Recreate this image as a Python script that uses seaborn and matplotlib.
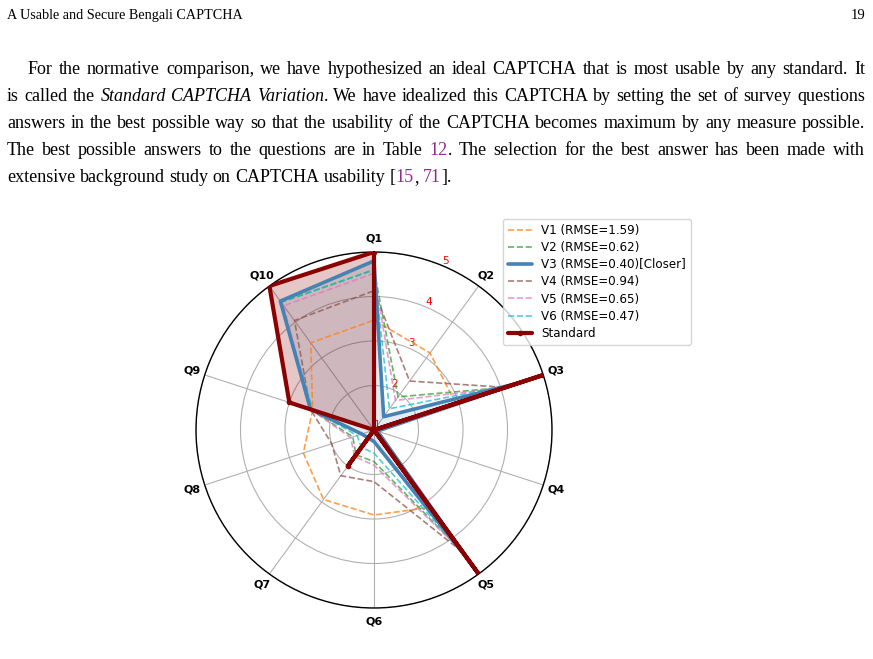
import numpy as np
import pandas as pd
import matplotlib
matplotlib.use("Agg")
import matplotlib.pyplot as plt
import seaborn as sns

# ---------------- data ----------------
categories = ["Q1", "Q2", "Q3", "Q4", "Q5", "Q6", "Q7", "Q8", "Q9", "Q10"]
v1 = [3.47, 3.14, 2.93, 1.10, 3.15, 2.91, 2.93, 2.67, 2.45, 3.42]
v2 = [4.60, 1.92, 4.10, 1.05, 4.40, 1.71, 1.69, 1.50, 2.50, 4.55]
v3 = [4.80, 1.37, 4.40, 1.08, 4.60, 1.26, 1.22, 1.29, 2.50, 4.58]
v4 = [4.13, 2.36, 4.10, 1.08, 4.40, 2.16, 2.27, 2.00, 2.50, 4.04]
v5 = [4.52, 1.82, 4.10, 1.05, 4.40, 1.79, 1.74, 1.55, 2.50, 4.45]
v6 = [4.60, 1.59, 4.40, 1.05, 4.50, 1.52, 1.48, 1.40, 2.45, 4.55]
standard = [5, 1, 5, 1, 5, 1, 2, 1, 3, 5]
series_labels = ["V1 (RMSE=1.59)", "V2 (RMSE=0.62)", "V3 (RMSE=0.40)[Closer]",
                 "V4 (RMSE=0.94)", "V5 (RMSE=0.65)", "V6 (RMSE=0.47)", "Standard"]
r_ticks = [1, 2, 3, 4, 5]

header_left = "A Usable and Secure Bengali CAPTCHA"
header_right = "19"
PURPLE = "#8b2c8b"
para_lines = [
    [[("For", {})], [("the", {})], [("normative", {})], [("comparison,", {})], [("we", {})], [("have", {})],
     [("hypothesized", {})], [("an", {})], [("ideal", {})], [("CAPTCHA", {})], [("that", {})], [("is", {})],
     [("most", {})], [("usable", {})], [("by", {})], [("any", {})], [("standard.", {})], [("It", {})]],
    [[("is", {})], [("called", {})], [("the", {})], [("Standard", {"style": "italic"})],
     [("CAPTCHA", {"style": "italic"})], [("Variation", {"style": "italic"}), (".", {})], [("We", {})],
     [("have", {})], [("idealized", {})], [("this", {})], [("CAPTCHA", {})], [("by", {})], [("setting", {})],
     [("the", {})], [("set", {})], [("of", {})], [("survey", {})], [("questions", {})]],
    [[(w, {})] for w in "answers in the best possible way so that the usability of the CAPTCHA becomes maximum by any measure possible.".split()],
    [[(w, {})] for w in "The best possible answers to the questions are in Table".split()]
    + [[("12", {"color": PURPLE}), (".", {})]]
    + [[(w, {})] for w in "The selection for the best answer has been made with".split()],
    [[(w, {})] for w in "extensive background study on CAPTCHA usability".split()]
    + [[("[", {}), ("15", {"color": PURPLE}), (",", {})], [("71", {"color": PURPLE}), ("].", {})]],
]

W, H = 873, 659
sns.set_style("white")
plt.rcParams["font.family"] = ["DejaVu Sans"]
plt.rcParams["text.color"] = "black"
plt.rcParams["xtick.color"] = "black"
fig = plt.figure(figsize=(W / 100, H / 100), dpi=100)

# ---------------- page text ----------------
SERIF = "Liberation Serif"
renderer = fig.canvas.get_renderer()


def text_width(s, size, style="normal"):
    t = fig.text(0, 0, s, family=SERIF, size=size, style=style)
    w = t.get_window_extent(renderer).width
    t.remove()
    return w


def advance(s, size, style="normal"):
    # approximate pen advance of a string
    return text_width(s + "l", size, style) - text_width("l", size, style)


def place_line(tokens, y_px, x0, x1, justify, size):
    words = []
    for w in tokens:
        parts = []
        off = 0.0
        for t, st in w:
            style = st.get("style", "normal")
            txt = fig.text(0, 0, t, family=SERIF, size=size, color=st.get("color", "black"),
                           style=style, va="baseline", ha="left")
            parts.append((txt, off))
            off += advance(t, size, style)
        words.append((parts, off))
    total = sum(w for _, w in words)
    if justify and len(words) > 1:
        gap = (x1 - x0 - total) / (len(words) - 1)
    else:
        gap = advance("a a", size) - advance("aa", size)
    x = x0
    for parts, ww in words:
        for txt, o in parts:
            txt.set_position(((x + o) / W, 1 - y_px / H))
        x += ww + gap


fig.text(7 / W, 1 - 19 / H, header_left, family=SERIF, size=10.2, color="black",
         va="baseline", ha="left")
fig.text(865 / W, 1 - 19 / H, header_right, family=SERIF, size=10.5, color="black",
         va="baseline", ha="right")

body_size = 13.0
baselines = [74, 101, 128, 155, 182]
for i, (toks, yb) in enumerate(zip(para_lines, baselines)):
    x0 = 28 if i == 0 else 7
    place_line(toks, yb, x0, 865, justify=(i < len(para_lines) - 1), size=body_size)

# ---------------- radar chart ----------------
cx, cy, R = 374, 430, 178
ax = fig.add_axes([(cx - R) / W, (H - cy - R) / H, 2 * R / W, 2 * R / H], projection="polar")
ax.set_theta_offset(np.pi / 2)
ax.set_theta_direction(-1)

n = len(categories)
angles = np.linspace(0, 2 * np.pi, n, endpoint=False)

all_series = [v1, v2, v3, v4, v5, v6, standard]
colors = ["#ff7f0e", "#2ca02c", "steelblue", "#8c564b", "#e377c2", "#17becf", "darkred"]


def closed_df(vals):
    th = list(angles) + [angles[0]]
    rv = list(vals) + [vals[0]]
    return pd.DataFrame({"theta": th, "value": rv})


for i, (vals, lab, col) in enumerate(zip(all_series, series_labels, colors)):
    df = closed_df(vals)
    if lab.startswith("V3"):
        sns.lineplot(data=df, x="theta", y="value", ax=ax, sort=False, estimator=None,
                     color=col, lw=2.6, label=lab, zorder=4)
        ax.fill(df["theta"], df["value"], color=col, alpha=0.15, zorder=1)
    elif lab == "Standard":
        sns.lineplot(data=df, x="theta", y="value", ax=ax, sort=False, estimator=None,
                     color=col, lw=3, marker="o", markersize=4, markeredgewidth=0,
                     label=lab, zorder=6)
        ax.fill(df["theta"], df["value"], color=col, alpha=0.22, zorder=2)
    else:
        sns.lineplot(data=df, x="theta", y="value", ax=ax, sort=False, estimator=None,
                     color=col, lw=1.2, linestyle="--", alpha=0.75, label=lab, zorder=3)

if ax.get_legend() is not None:
    ax.get_legend().remove()

ax.set_xlabel("")
ax.set_ylabel("")
ax.set_xticks(angles)
ax.set_xticklabels(categories, fontsize=8, fontweight="bold", color="black")
ax.tick_params(axis="x", pad=-1)
ax.set_ylim(1, 5)
ax.set_yticks(r_ticks)
ax.set_yticklabels([str(t) for t in r_ticks], color="red", fontsize=7.5)
ax.set_rlabel_position(22.5)
ax.grid(True, color="#b0b0b0", lw=0.8)
ax.spines["polar"].set_color("black")
ax.spines["polar"].set_linewidth(1.0)

handles, labels = ax.get_legend_handles_labels()
leg = fig.legend(handles, labels, loc="upper left", bbox_to_anchor=(503 / W, 1 - 219 / H),
                 fontsize=8.6, frameon=True, framealpha=0.8, edgecolor="#cccccc",
                 borderpad=0.4, labelspacing=0.35, handlelength=2.0, borderaxespad=0)
for t in leg.get_texts():
    t.set_color("black")

fig.savefig("out.png", dpi=100)
